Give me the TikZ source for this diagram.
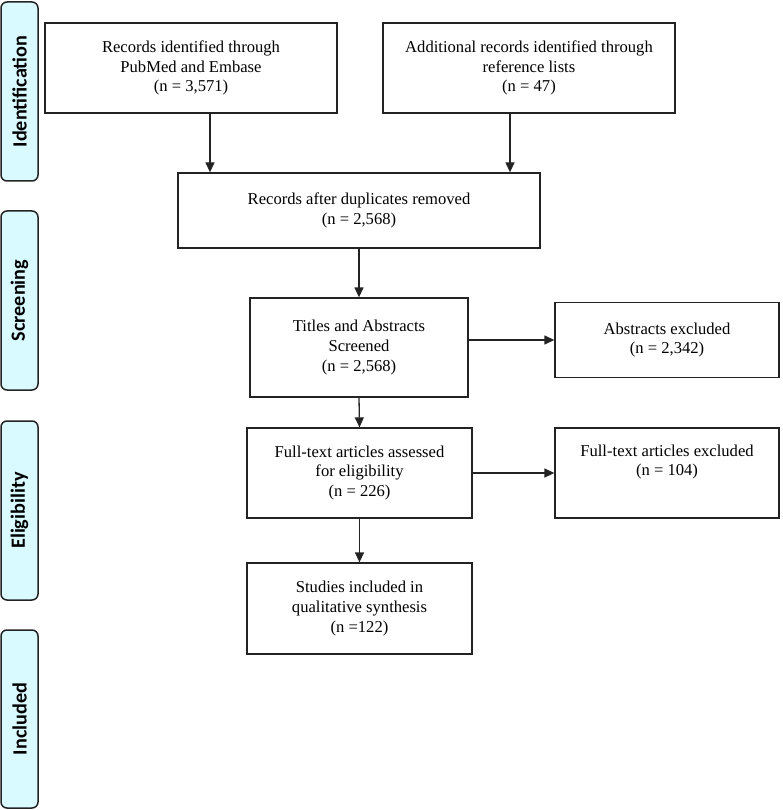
\documentclass[tikz,border=0pt]{standalone}
\usepackage{fontspec}
\setmainfont{Liberation Serif}
\newfontfamily\barfont{Carlito}
\usetikzlibrary{arrows.meta}
\definecolor{barfill}{RGB}{217,250,255}
\definecolor{linec}{RGB}{35,35,35}
\begin{document}
\begin{tikzpicture}[x=1pt,y=-1pt,
  box/.style={draw=linec,line width=1.3pt,fill=white,inner sep=0pt,align=center,
    font=\fontsize{16.6}{19.7}\selectfont},
  bar/.style={draw=linec,line width=1.5pt,fill=barfill,rounded corners=6pt,inner sep=0pt,
    rotate=90,minimum height=37pt,font=\barfont\bfseries\fontsize{20.2}{22}\selectfont},
  arr/.style={draw=linec,line width=1.3pt,-{Triangle[length=10pt,width=9pt]}}]
\useasboundingbox (0,0) rectangle (782,810);
% phase bars
\node[bar,minimum width=179pt] (pid) at (19.5,91.5) {Identification};
\node[bar,minimum width=179pt] (psc) at (19.5,300.5) {Screening};
\node[bar,minimum width=179pt] (pel) at (19.5,510.5) {Eligibility};
\node[bar,minimum width=178pt] (pin) at (19.5,719) {Included};
% boxes
\node[box,minimum width=292pt,minimum height=90pt] (b1) at (191,68)
  {Records identified through\\PubMed and Embase\\(n = 3,571)};
\node[box,minimum width=292pt,minimum height=90pt] (b2) at (529,68)
  {Additional records identified through\\reference lists\\(n = 47)};
\node[box,minimum width=362pt,minimum height=75pt] (b3) at (359,210.5)
  {Records after duplicates removed\\(n = 2,568)};
\node[box,minimum width=218pt,minimum height=99pt] (b4) at (359,347.5)
  {Titles and Abstracts\\Screened\\(n = 2,568)};
\node[box,minimum width=224pt,minimum height=75pt] (b5) at (667,340)
  {Abstracts excluded\\(n = 2,342)};
\node[box,minimum width=225pt,minimum height=90pt] (b6) at (359.5,473)
  {Full-text articles assessed\\for eligibility\\(n = 226)};
\node[box,minimum width=224pt,minimum height=90pt] (b7) at (667,473)
  {Full-text articles excluded\\(n = 104)\\\strut};
\node[box,minimum width=225pt,minimum height=91pt] (b8) at (359.5,608.5)
  {Studies included in\\qualitative synthesis\\(n =122)};
% connectors
\draw[arr] ([xshift=19pt]b1.south) -- ([xshift=19pt]b1.south |- b3.north);
\draw[arr] ([xshift=-19pt]b2.south) -- ([xshift=-19pt]b2.south |- b3.north);
\draw[arr] (b3.south) -- (b4.north);
\draw[arr] (b5.west -| b4.east) -- (b5.west);
\draw[arr] (b4.south) -- (b6.north);
\draw[arr] (b6.east) -- (b7.west);
\draw[arr] (b6.south) -- (b8.north);
\end{tikzpicture}
\end{document}
